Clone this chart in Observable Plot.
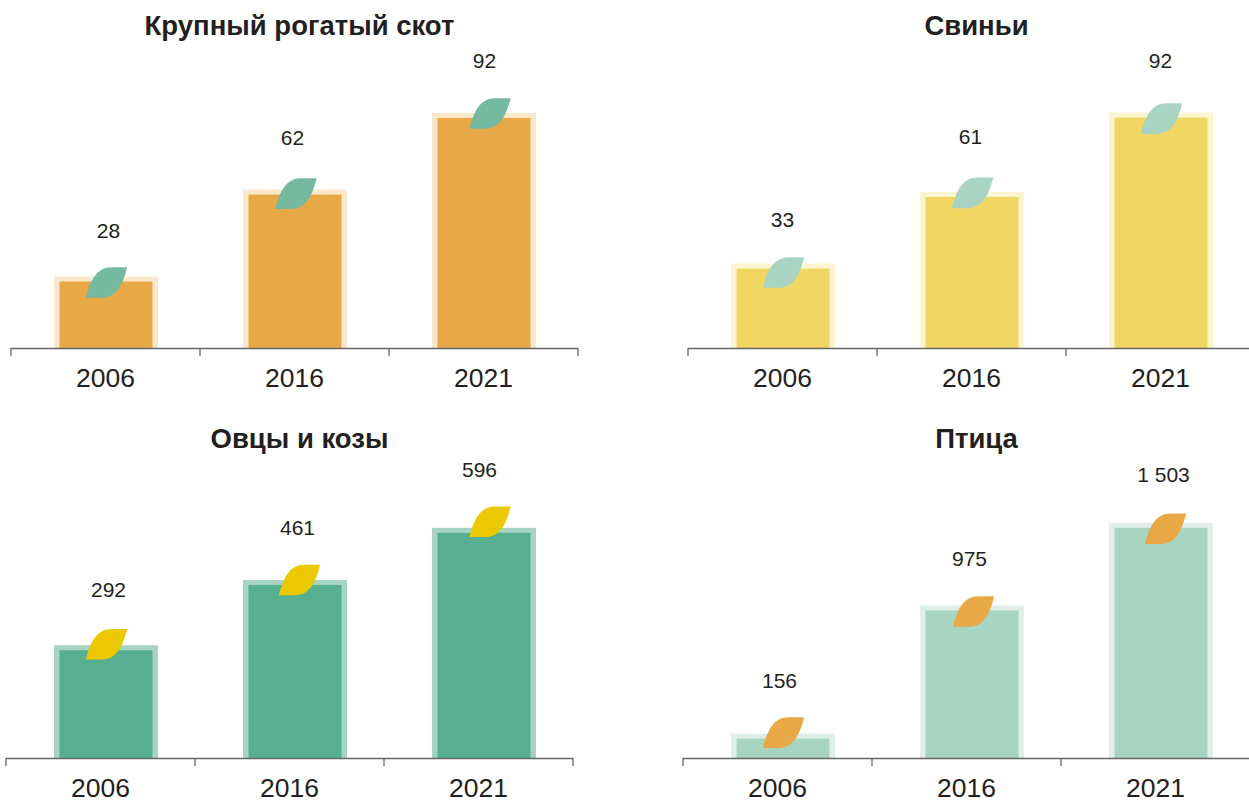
<!DOCTYPE html>
<html><head><meta charset="utf-8">
<script src="https://cdn.jsdelivr.net/npm/d3@7"></script>
<script src="https://cdn.jsdelivr.net/npm/@observablehq/plot@0.6"></script>
<style>
html,body{margin:0;padding:0;background:#fff;overflow:hidden;width:1249px;height:800px}
#chart{position:relative;width:1249px;height:800px;overflow:hidden}
#chart svg{position:absolute;overflow:visible;background:transparent}
</style></head><body><div id="chart"></div>
<script>
const years = ["2006", "2016", "2021"];
const cattle = [28, 62, 92];
const pigs = [33, 61, 92];
const sheep = [292, 461, 596];
const poultry = [156, 975, 1503];
const titles = ["Крупный рогатый скот", "Свиньи", "Овцы и козы", "Птица"];

const fmt = d3.formatLocale({decimal: ",", thousands: " ", grouping: [3], currency: ["", ""]}).format(",");
const leaf = {draw(c) {
  c.moveTo(-20.7, 15.3);
  c.bezierCurveTo(-16, -3, -9.5, -15.3, 5, -15.3);
  c.lineTo(20.7, -15.3);
  c.bezierCurveTo(16, 3, 9.5, 15.3, -5, 15.3);
  c.closePath();
}};
const W = 577, H = 400, ML = 5, step = 189, base = 348, ink = "#231f20", axisInk = "#666";
const panels = [
  {values: cattle, title: titles[0], yMax: 136.2, left: 6, top: 0, inner: "#E9A846", outer: "#FAE8CC", leafFill: "#75B9A0", titleY: 26, titleDx: 4.5, barDx: 0,
   leafNudge: [[0, 5.5], [0.5, 3.5], [5.5, 0]], labelNudge: [[2, -46], [-3, -52], [0, -52]]},
  {values: pigs, title: titles[1], yMax: 136, left: 683, top: 0, inner: "#F1D664", outer: "#FBF5D0", leafFill: "#A9D4C3", titleY: 26, titleDx: 4.5, barDx: 0,
   leafNudge: [[0, 8.5], [0, 0.5], [0, 5.5]], labelNudge: [[-1, -44], [-2, -55], [-1, -52]]},
  {values: sheep, title: titles[2], yMax: 901, left: 1, top: 410, inner: "#56AF90", outer: "#A6D3C2", leafFill: "#EBC800", titleY: 29, titleDx: 9.5, barDx: 5,
   leafNudge: [[0, -1.5], [4, -0.5], [5.5, -6.5]], labelNudge: [[2, -55], [2, -52], [-5, -58]]},
  {values: poultry, title: titles[3], yMax: 2224, left: 678, top: 410, inner: "#A8D4C2", outer: "#DFEEE8", leafFill: "#E9A846", titleY: 29, titleDx: 9.5, barDx: 5,
   leafNudge: [[0, -1.5], [1, 5.5], [4, 5.5]], labelNudge: [[-4, -53], [-3, -47], [2, -48]]}
];
const root = document.getElementById("chart");
for (const p of panels) {
  const rows = years.map((year, i) => ({year, value: p.values[i], leaf: p.leafNudge[i], label: p.labelNudge[i]}));
  const svg = Plot.plot({
    width: W, height: H,
    marginLeft: ML, marginRight: ML, marginTop: 0, marginBottom: H - base - 8,
    style: {fontFamily: "'Liberation Sans', Arial, sans-serif", background: "transparent", overflow: "visible"},
    x: {domain: years, paddingInner: 0.45, paddingOuter: 0.225, label: null},
    y: {domain: [0, p.yMax], range: [base, 0], axis: null},
    marks: [
      Plot.barY(rows, {x: "year", y: "value", dx: p.barDx, fill: p.outer}),
      Plot.barY(rows, {x: "year", y: "value", dx: p.barDx, fill: p.inner, insetLeft: 5.5, insetRight: 5.5, insetTop: 5}),
      Plot.ruleY([0], {stroke: axisInk, strokeWidth: 1.3}),
      Plot.ruleX(years, {x: d => d, dx: -step / 2 - 1, stroke: axisInk, strokeWidth: 1.3, insetTop: base}),
      Plot.ruleX(years.slice(-1), {x: d => d, dx: step / 2 - 1, stroke: axisInk, strokeWidth: 1.3, insetTop: base}),
      ...rows.map(r => Plot.dot([r], {x: "year", y: "value", dx: p.barDx + r.leaf[0], dy: r.leaf[1], symbol: leaf, r: 10, fill: p.leafFill, stroke: "none"})),
      ...rows.map(r => Plot.text([r], {x: "year", y: "value", text: d => fmt(d.value), dx: p.barDx + r.label[0], dy: r.label[1], fontSize: 21, fill: ink})),
      Plot.axisX({anchor: "bottom", tickSize: 0, tickPadding: 12, dx: -1, fontSize: 26.5, color: ink, fill: ink, label: null}),
      Plot.text([p.title], {frameAnchor: "top", dy: p.titleY, dx: p.titleDx, lineAnchor: "middle", fontSize: 27.5, fontWeight: 700, fill: ink})
    ]
  });
  svg.style.left = p.left + "px";
  svg.style.top = p.top + "px";
  root.appendChild(svg);
}
</script></body></html>
